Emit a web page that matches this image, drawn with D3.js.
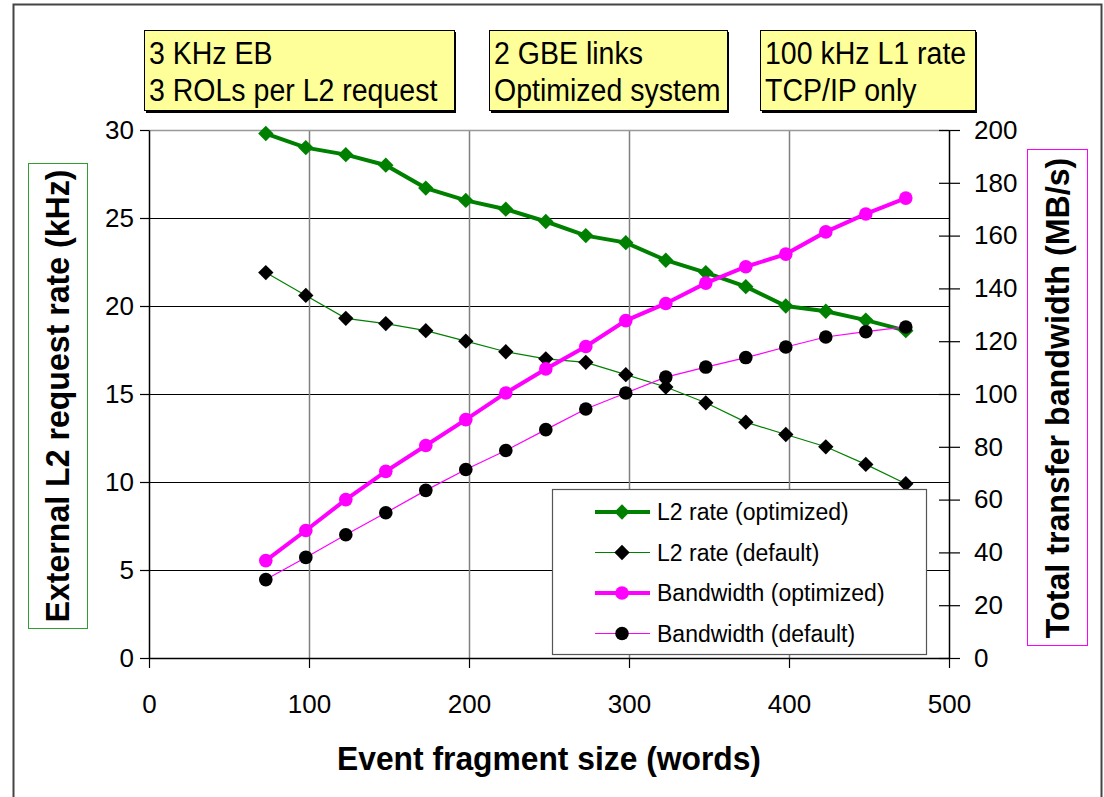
<!DOCTYPE html>
<html>
<head>
<meta charset="utf-8">
<script src="https://cdn.jsdelivr.net/npm/d3@7"></script>
<style>
  body { margin: 0; background: #fff; }
  svg { display: block; font-family: "Liberation Sans", Arial, sans-serif; }
</style>
</head>
<body>
<svg id="chart" width="1104" height="797"></svg>
<script>
// data
var fragSize = [73, 98, 123, 148, 173, 198, 223, 248, 273, 298, 323, 348, 373, 398, 423, 448, 473];
var l2RateOpt = [29.8, 29.0, 28.6, 28.0, 26.7, 26.0, 25.5, 24.8, 24.0, 23.6, 22.6, 21.9, 21.1, 20.0, 19.7, 19.2, 18.6];
var l2RateDef = [21.9, 20.6, 19.3, 19.0, 18.6, 18.0, 17.4, 17.0, 16.8, 16.1, 15.4, 14.5, 13.4, 12.7, 12.0, 11.0, 9.9];
var bwOpt = [36.9, 48.3, 60.0, 70.7, 80.5, 90.3, 100.4, 109.5, 118.0, 127.8, 134.3, 142.0, 148.2, 153.0, 161.4, 168.2, 174.2];
var bwDef = [29.7, 38.1, 46.7, 55.0, 63.5, 71.4, 78.6, 86.5, 94.3, 100.4, 106.4, 110.2, 113.8, 117.8, 121.6, 123.6, 125.4];

var xTicks = [0, 100, 200, 300, 400, 500];
var leftTicks = [0, 5, 10, 15, 20, 25, 30];
var rightTicks = [0, 20, 40, 60, 80, 100, 120, 140, 160, 180, 200];

var noteBoxes = [
  ["3 KHz EB", "3 ROLs per L2 request"],
  ["2 GBE links", "Optimized system"],
  ["100 kHz L1 rate", "TCP/IP only"]
];

var seriesNames = ["L2 rate (optimized)", "L2 rate (default)", "Bandwidth (optimized)", "Bandwidth (default)"];

var plot = {left: 149, right: 949, top: 130, bottom: 658};

var svg = d3.select("#chart");

// outer chart frame
svg.append("rect")
  .attr("x", 13.5).attr("y", 4.5)
  .attr("width", 1088).attr("height", 800)
  .attr("fill", "#fff")
  .attr("stroke", "#444").attr("stroke-width", 2);

var x = d3.scaleLinear().domain([0, 500]).range([plot.left, plot.right]);
var yL = d3.scaleLinear().domain([0, 30]).range([plot.bottom, plot.top]);
var yR = d3.scaleLinear().domain([0, 200]).range([plot.bottom, plot.top]);

// note boxes along the top
var boxPos = [[144, 310], [489, 238], [760, 215]];
noteBoxes.forEach(function(lines, i) {
  var g = svg.append("g").attr("transform", "translate(" + boxPos[i][0] + ",30)");
  g.append("rect").attr("x", 2).attr("y", 2)
    .attr("width", boxPos[i][1]).attr("height", 81).attr("fill", "#000");
  g.append("rect").attr("x", 0.5).attr("y", 0.5)
    .attr("width", boxPos[i][1]).attr("height", 80)
    .attr("fill", "#ffff99").attr("stroke", "#000").attr("stroke-width", 1);
  lines.forEach(function(t, j) {
    g.append("text")
      .attr("transform", "translate(5," + (34 + j * 37) + ") scale(0.92,1)")
      .attr("font-size", 31)
      .attr("fill", "#000")
      .text(t);
  });
});

// gridlines
svg.append("g")
  .selectAll("line")
  .data(leftTicks.filter(function(d) { return d > 0 && d < 30; }))
  .enter().append("line")
  .attr("x1", plot.left).attr("x2", plot.right)
  .attr("y1", function(d) { return yL(d) + 0.5; })
  .attr("y2", function(d) { return yL(d) + 0.5; })
  .attr("stroke", "#000").attr("stroke-width", 1);

svg.append("g")
  .selectAll("line")
  .data(xTicks.filter(function(d) { return d > 0 && d < 500; }))
  .enter().append("line")
  .attr("x1", function(d) { return x(d) + 0.5; })
  .attr("x2", function(d) { return x(d) + 0.5; })
  .attr("y1", plot.top).attr("y2", plot.bottom)
  .attr("stroke", "#808080").attr("stroke-width", 1.5);

// plot area top border
svg.append("line")
  .attr("x1", plot.left).attr("x2", plot.right)
  .attr("y1", plot.top + 0.5).attr("y2", plot.top + 0.5)
  .attr("stroke", "#999").attr("stroke-width", 1.5);

// axes
function styleAxis(g) {
  g.attr("font-family", "'Liberation Sans', Arial, sans-serif").attr("font-size", 26);
  g.select(".domain").attr("stroke", "#000").attr("stroke-width", 1.5);
  g.selectAll(".tick line").attr("stroke", "#000").attr("stroke-width", 1.2);
  g.selectAll(".tick text").attr("fill", "#000");
}

svg.append("g")
  .attr("transform", "translate(" + plot.left + ",0)")
  .call(d3.axisLeft(yL).tickValues(leftTicks).tickSize(9).tickSizeOuter(0).tickPadding(6))
  .call(styleAxis);

svg.append("g")
  .attr("transform", "translate(0," + plot.bottom + ")")
  .call(d3.axisBottom(x).tickValues(xTicks).tickSize(10).tickSizeOuter(0).tickPadding(27))
  .call(styleAxis);

var rightAxis = svg.append("g")
  .attr("transform", "translate(" + plot.right + ",0)")
  .call(d3.axisRight(yR).tickValues(rightTicks).tickSize(11).tickSizeOuter(0).tickPadding(14))
  .call(styleAxis);
rightAxis.selectAll(".tick line").attr("x1", -10);

// axis titles
svg.append("text")
  .attr("transform", "translate(" + ((plot.left + plot.right) / 2) + ",770) scale(0.935,1)")
  .attr("text-anchor", "middle")
  .attr("font-size", 34).attr("font-weight", "bold")
  .text("Event fragment size (words)");

svg.append("rect")
  .attr("x", 28.5).attr("y", 163.5).attr("width", 59).attr("height", 465)
  .attr("fill", "none").attr("stroke", "#2e9e2e").attr("stroke-width", 1);
svg.append("text")
  .attr("transform", "translate(57,396) rotate(-90) scale(0.944,1)")
  .attr("text-anchor", "middle").attr("dy", "0.35em")
  .attr("font-size", 34).attr("font-weight", "bold")
  .text("External L2 request rate (kHz)");

svg.append("rect")
  .attr("x", 1027.5).attr("y", 149.5).attr("width", 60).attr("height", 496)
  .attr("fill", "none").attr("stroke", "#ff00ff").attr("stroke-width", 1);
svg.append("text")
  .attr("transform", "translate(1057,398) rotate(-90) scale(0.947,1)")
  .attr("text-anchor", "middle").attr("dy", "0.35em")
  .attr("font-size", 34).attr("font-weight", "bold")
  .text("Total transfer bandwidth (MB/s)");

// series
var series = [
  {name: seriesNames[0], values: l2RateOpt, y: yL, line: "#008000", width: 4, marker: "diamond", fill: "#008000"},
  {name: seriesNames[1], values: l2RateDef, y: yL, line: "#008000", width: 1.2, marker: "diamond", fill: "#000"},
  {name: seriesNames[2], values: bwOpt, y: yR, line: "#ff00ff", width: 4, marker: "circle", fill: "#ff00ff"},
  {name: seriesNames[3], values: bwDef, y: yR, line: "#ff00ff", width: 1.2, marker: "circle", fill: "#000"}
];

var diamond = d3.symbol().type(d3.symbolDiamond2).size(150);

function drawMarker(g, s, cx, cy) {
  if (s.marker == "circle") {
    g.append("circle").attr("cx", cx).attr("cy", cy).attr("r", 6.8).attr("fill", s.fill);
  } else {
    g.append("path").attr("d", diamond)
      .attr("transform", "translate(" + cx + "," + cy + ")")
      .attr("fill", s.fill);
  }
}

series.forEach(function(s) {
  var pts = fragSize.map(function(f, i) { return [x(f), s.y(s.values[i])]; });
  var g = svg.append("g");
  g.append("path")
    .attr("d", d3.line()(pts))
    .attr("fill", "none")
    .attr("stroke", s.line)
    .attr("stroke-width", s.width);
  pts.forEach(function(p) { drawMarker(g, s, p[0], p[1]); });
});

// legend
var lg = svg.append("g").attr("transform", "translate(552,489)");
lg.append("rect")
  .attr("x", 0.5).attr("y", 0.5).attr("width", 374).attr("height", 165)
  .attr("fill", "#fff").attr("stroke", "#555").attr("stroke-width", 1.2);
series.forEach(function(s, i) {
  var cy = 23 + i * 40.5;
  lg.append("line")
    .attr("x1", 43).attr("x2", 98)
    .attr("y1", cy).attr("y2", cy)
    .attr("stroke", s.line).attr("stroke-width", s.width);
  drawMarker(lg, s, 70, cy);
  lg.append("text")
    .attr("x", 105).attr("y", cy).attr("dy", "0.35em")
    .attr("font-size", 23)
    .text(s.name);
});
</script>
</body>
</html>
